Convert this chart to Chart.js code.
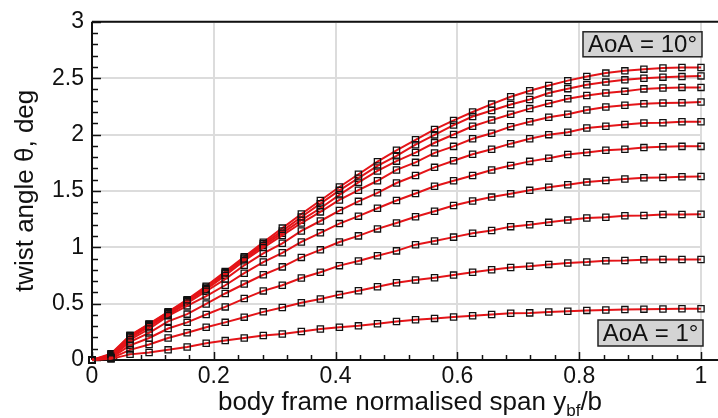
<!DOCTYPE html>
<html>
<head>
<meta charset="utf-8">
<script src="https://cdn.jsdelivr.net/npm/chart.js@4"></script>
<style>
  html, body { margin: 0; padding: 0; background: #fff; }
  #wrap { width: 718px; height: 418px; }
</style>
</head>
<body>
<div id="wrap"><canvas id="twistChart" width="718" height="418"></canvas></div>
<script>
// -------- DATA --------
const spanX = [0, 0.03125, 0.0625, 0.09375, 0.125, 0.15625, 0.1875, 0.21875, 0.25, 0.28125,
    0.3125, 0.34375, 0.375, 0.40625, 0.4375, 0.46875, 0.5, 0.53125, 0.5625, 0.59375,
    0.625, 0.65625, 0.6875, 0.71875, 0.75, 0.78125, 0.8125, 0.84375, 0.875, 0.90625,
    0.9375, 0.96875, 1];

const aoa1 = [0, 0.01, 0.05, 0.067, 0.09, 0.116, 0.148, 0.172, 0.195, 0.218, 0.23, 0.253, 0.275, 0.29, 0.303, 0.322, 0.342, 0.357, 0.369, 0.381, 0.392, 0.404, 0.414, 0.418, 0.426, 0.432, 0.44, 0.444, 0.447, 0.451, 0.453, 0.454, 0.454];
const aoa2 = [0, 0.015, 0.09, 0.137, 0.195, 0.241, 0.29, 0.334, 0.38, 0.427, 0.465, 0.508, 0.541, 0.58, 0.615, 0.65, 0.686, 0.709, 0.73, 0.753, 0.779, 0.8, 0.82, 0.831, 0.848, 0.861, 0.869, 0.881, 0.883, 0.89, 0.892, 0.892, 0.892];
const aoa3 = [0, 0.02, 0.13, 0.195, 0.279, 0.334, 0.404, 0.471, 0.545, 0.613, 0.663, 0.727, 0.779, 0.837, 0.878, 0.925, 0.968, 1.023, 1.055, 1.09, 1.125, 1.148, 1.183, 1.2, 1.221, 1.241, 1.259, 1.267, 1.279, 1.282, 1.291, 1.291, 1.293];
const aoa4 = [0, 0.025, 0.16, 0.24, 0.343, 0.407, 0.497, 0.59, 0.674, 0.756, 0.826, 0.91, 0.977, 1.047, 1.101, 1.163, 1.215, 1.27, 1.32, 1.37, 1.41, 1.445, 1.475, 1.505, 1.532, 1.555, 1.578, 1.593, 1.605, 1.616, 1.619, 1.625, 1.627];
const aoa5 = [0, 0.03, 0.18, 0.275, 0.392, 0.48, 0.567, 0.663, 0.77, 0.869, 0.951, 1.047, 1.128, 1.21, 1.276, 1.346, 1.415, 1.477, 1.541, 1.59, 1.637, 1.686, 1.725, 1.762, 1.79, 1.823, 1.84, 1.86, 1.869, 1.884, 1.892, 1.895, 1.895];
const aoa6 = [0, 0.035, 0.195, 0.295, 0.4, 0.505, 0.61, 0.718, 0.84, 0.945, 1.035, 1.145, 1.233, 1.326, 1.407, 1.483, 1.57, 1.637, 1.709, 1.768, 1.825, 1.869, 1.919, 1.962, 1.999, 2.02, 2.058, 2.073, 2.09, 2.102, 2.104, 2.113, 2.113];
const aoa7 = [0, 0.04, 0.205, 0.305, 0.41, 0.52, 0.625, 0.75, 0.88, 0.997, 1.105, 1.215, 1.314, 1.42, 1.506, 1.59, 1.686, 1.753, 1.837, 1.895, 1.962, 2.012, 2.07, 2.113, 2.154, 2.18, 2.218, 2.244, 2.259, 2.273, 2.279, 2.282, 2.288];
const aoa8 = [0, 0.045, 0.21, 0.312, 0.418, 0.525, 0.635, 0.765, 0.895, 1.015, 1.125, 1.24, 1.346, 1.465, 1.576, 1.677, 1.764, 1.84, 1.927, 2.0, 2.073, 2.128, 2.18, 2.23, 2.276, 2.317, 2.346, 2.369, 2.383, 2.405, 2.413, 2.418, 2.418];
const aoa9 = [0, 0.05, 0.215, 0.316, 0.422, 0.53, 0.645, 0.775, 0.905, 1.03, 1.145, 1.268, 1.387, 1.505, 1.613, 1.721, 1.811, 1.91, 1.997, 2.084, 2.16, 2.213, 2.267, 2.311, 2.368, 2.407, 2.442, 2.465, 2.485, 2.5, 2.509, 2.514, 2.52];
const aoa10 = [0, 0.055, 0.22, 0.32, 0.427, 0.535, 0.655, 0.785, 0.915, 1.045, 1.17, 1.295, 1.415, 1.535, 1.648, 1.759, 1.86, 1.953, 2.045, 2.125, 2.2, 2.27, 2.335, 2.389, 2.435, 2.478, 2.515, 2.545, 2.565, 2.58, 2.59, 2.594, 2.595];

const allSeries = [aoa1, aoa2, aoa3, aoa4, aoa5, aoa6, aoa7, aoa8, aoa9, aoa10];
const seriesNames = ["AoA = 1°", "AoA = 2°", "AoA = 3°", "AoA = 4°", "AoA = 5°",
    "AoA = 6°", "AoA = 7°", "AoA = 8°", "AoA = 9°", "AoA = 10°"];

const xTickLabels = ["0", "0.2", "0.4", "0.6", "0.8", "1"];
const yTickLabels = ["0", "0.5", "1", "1.5", "2", "2.5", "3"];
const xMinorStep = 0.04;
const yMinorStep = 0.1;

const topLabel = "AoA = 10°";
const bottomLabel = "AoA = 1°";
const yTitle = "twist angle θ, deg";

const FONT = "'Liberation Sans', Arial, Helvetica, sans-serif";

// -------- DECOR PLUGIN (axes, minor ticks, titles, boxes) --------
const decor = {
    id: "decor",
    beforeDatasetsDraw(chart) {
        const { ctx, chartArea: a, scales: { x, y } } = chart;
        ctx.save();
        ctx.strokeStyle = "#111";
        ctx.lineWidth = 1.5;

        // y ticks (inside)
        for (let v = 0; v <= 3.0001; v += yMinorStep) {
            const py = Math.round(y.getPixelForValue(v)) + 0.5;
            const major = Math.abs(v / 0.5 - Math.round(v / 0.5)) < 1e-6;
            ctx.beginPath();
            ctx.moveTo(a.left, py);
            ctx.lineTo(a.left + (major ? 9 : 6), py);
            ctx.stroke();
        }
        // x ticks (inside)
        for (let v = 0; v <= 1.0001; v += xMinorStep) {
            const px = Math.round(x.getPixelForValue(v)) + 0.5;
            const major = Math.abs(v / 0.2 - Math.round(v / 0.2)) < 1e-6;
            ctx.beginPath();
            ctx.moveTo(px, a.bottom);
            ctx.lineTo(px, a.bottom - (major ? 8 : 5));
            ctx.stroke();
        }

        // frame: left, top and bottom lines
        ctx.lineWidth = 2;
        ctx.beginPath();
        ctx.moveTo(a.left, a.top);
        ctx.lineTo(a.left, a.bottom);
        ctx.moveTo(a.left, a.top);
        ctx.lineTo(chart.width, a.top);
        ctx.moveTo(a.left, a.bottom);
        ctx.lineTo(chart.width, a.bottom);
        ctx.stroke();
        ctx.restore();
    },
    afterDraw(chart) {
        const { ctx, chartArea: a } = chart;
        ctx.save();
        ctx.fillStyle = "#111";

        // y title
        ctx.font = "26px " + FONT;
        ctx.textAlign = "center";
        ctx.textBaseline = "middle";
        ctx.translate(26, (a.top + a.bottom) / 2);
        ctx.rotate(-Math.PI / 2);
        ctx.fillText(yTitle, 0, 0);
        ctx.setTransform(1, 0, 0, 1, 0, 0);

        // x title with subscript
        const main = "body frame normalised span y";
        const sub = "bf";
        const tail = "/b";
        ctx.font = "26px " + FONT;
        const wMain = ctx.measureText(main).width;
        const wTail = ctx.measureText(tail).width;
        ctx.font = "17px " + FONT;
        const wSub = ctx.measureText(sub).width;
        const total = wMain + wSub + wTail;
        let sx = 410 - total / 2;
        const base = 410;
        ctx.textAlign = "left";
        ctx.textBaseline = "alphabetic";
        ctx.font = "26px " + FONT;
        ctx.fillText(main, sx, base);
        sx += wMain;
        ctx.font = "17px " + FONT;
        ctx.fillText(sub, sx, base + 6);
        sx += wSub;
        ctx.font = "26px " + FONT;
        ctx.fillText(tail, sx, base);

        // label boxes
        const drawBox = (text, right, top, w, h) => {
            ctx.fillStyle = "#d4d4d4";
            ctx.fillRect(right - w, top, w, h);
            ctx.strokeStyle = "#222";
            ctx.lineWidth = 1.5;
            ctx.strokeRect(right - w, top, w, h);
            ctx.fillStyle = "#111";
            ctx.font = "24px " + FONT;
            ctx.textAlign = "center";
            ctx.textBaseline = "middle";
            ctx.fillText(text, right - w / 2, top + h / 2 + 1);
        };
        drawBox(topLabel, a.right + 1, a.top + 10, 119, 25);
        drawBox(bottomLabel, a.right + 2, a.bottom - 40, 105, 26);
        ctx.restore();
    }
};

// -------- CHART --------
const datasets = allSeries.map((vals, i) => ({
    label: seriesNames[i],
    data: spanX.map((xv, j) => ({ x: xv, y: vals[j] })),
    borderColor: "rgb(228,20,24)",
    borderWidth: 2,
    pointStyle: "rect",
    pointRadius: 4.4,
    pointBorderColor: "#111",
    pointBorderWidth: 1.3,
    pointBackgroundColor: "rgba(255,255,255,0)",
    tension: 0,
    clip: false
}));

new Chart(document.getElementById("twistChart"), {
    type: "line",
    data: { datasets },
    plugins: [decor],
    options: {
        responsive: false,
        animation: false,
        events: [],
        layout: { padding: { left: 0, right: 17, top: 16, bottom: 0 } },
        plugins: { legend: { display: false }, tooltip: { enabled: false } },
        scales: {
            x: {
                type: "linear",
                min: 0,
                max: 1,
                afterFit: s => { s.height = 58; },
                afterBuildTicks: s => { s.ticks = xTickLabels.map(t => ({ value: parseFloat(t) })); },
                ticks: {
                    callback: (v, i) => xTickLabels[i],
                    font: { size: 23, family: FONT },
                    color: "#111",
                    padding: 3,
                    maxRotation: 0
                },
                grid: { color: "#dcdcdc", lineWidth: 2, drawTicks: false },
                border: { display: false }
            },
            y: {
                type: "linear",
                min: 0,
                max: 3,
                afterFit: s => { s.width = 92; },
                afterBuildTicks: s => { s.ticks = yTickLabels.map(t => ({ value: parseFloat(t) })); },
                ticks: {
                    callback: (v, i) => yTickLabels[i],
                    font: { size: 23, family: FONT },
                    color: "#111",
                    padding: 8
                },
                grid: { color: "#dcdcdc", lineWidth: 2, drawTicks: false },
                border: { display: false }
            }
        }
    }
});
</script>
</body>
</html>
